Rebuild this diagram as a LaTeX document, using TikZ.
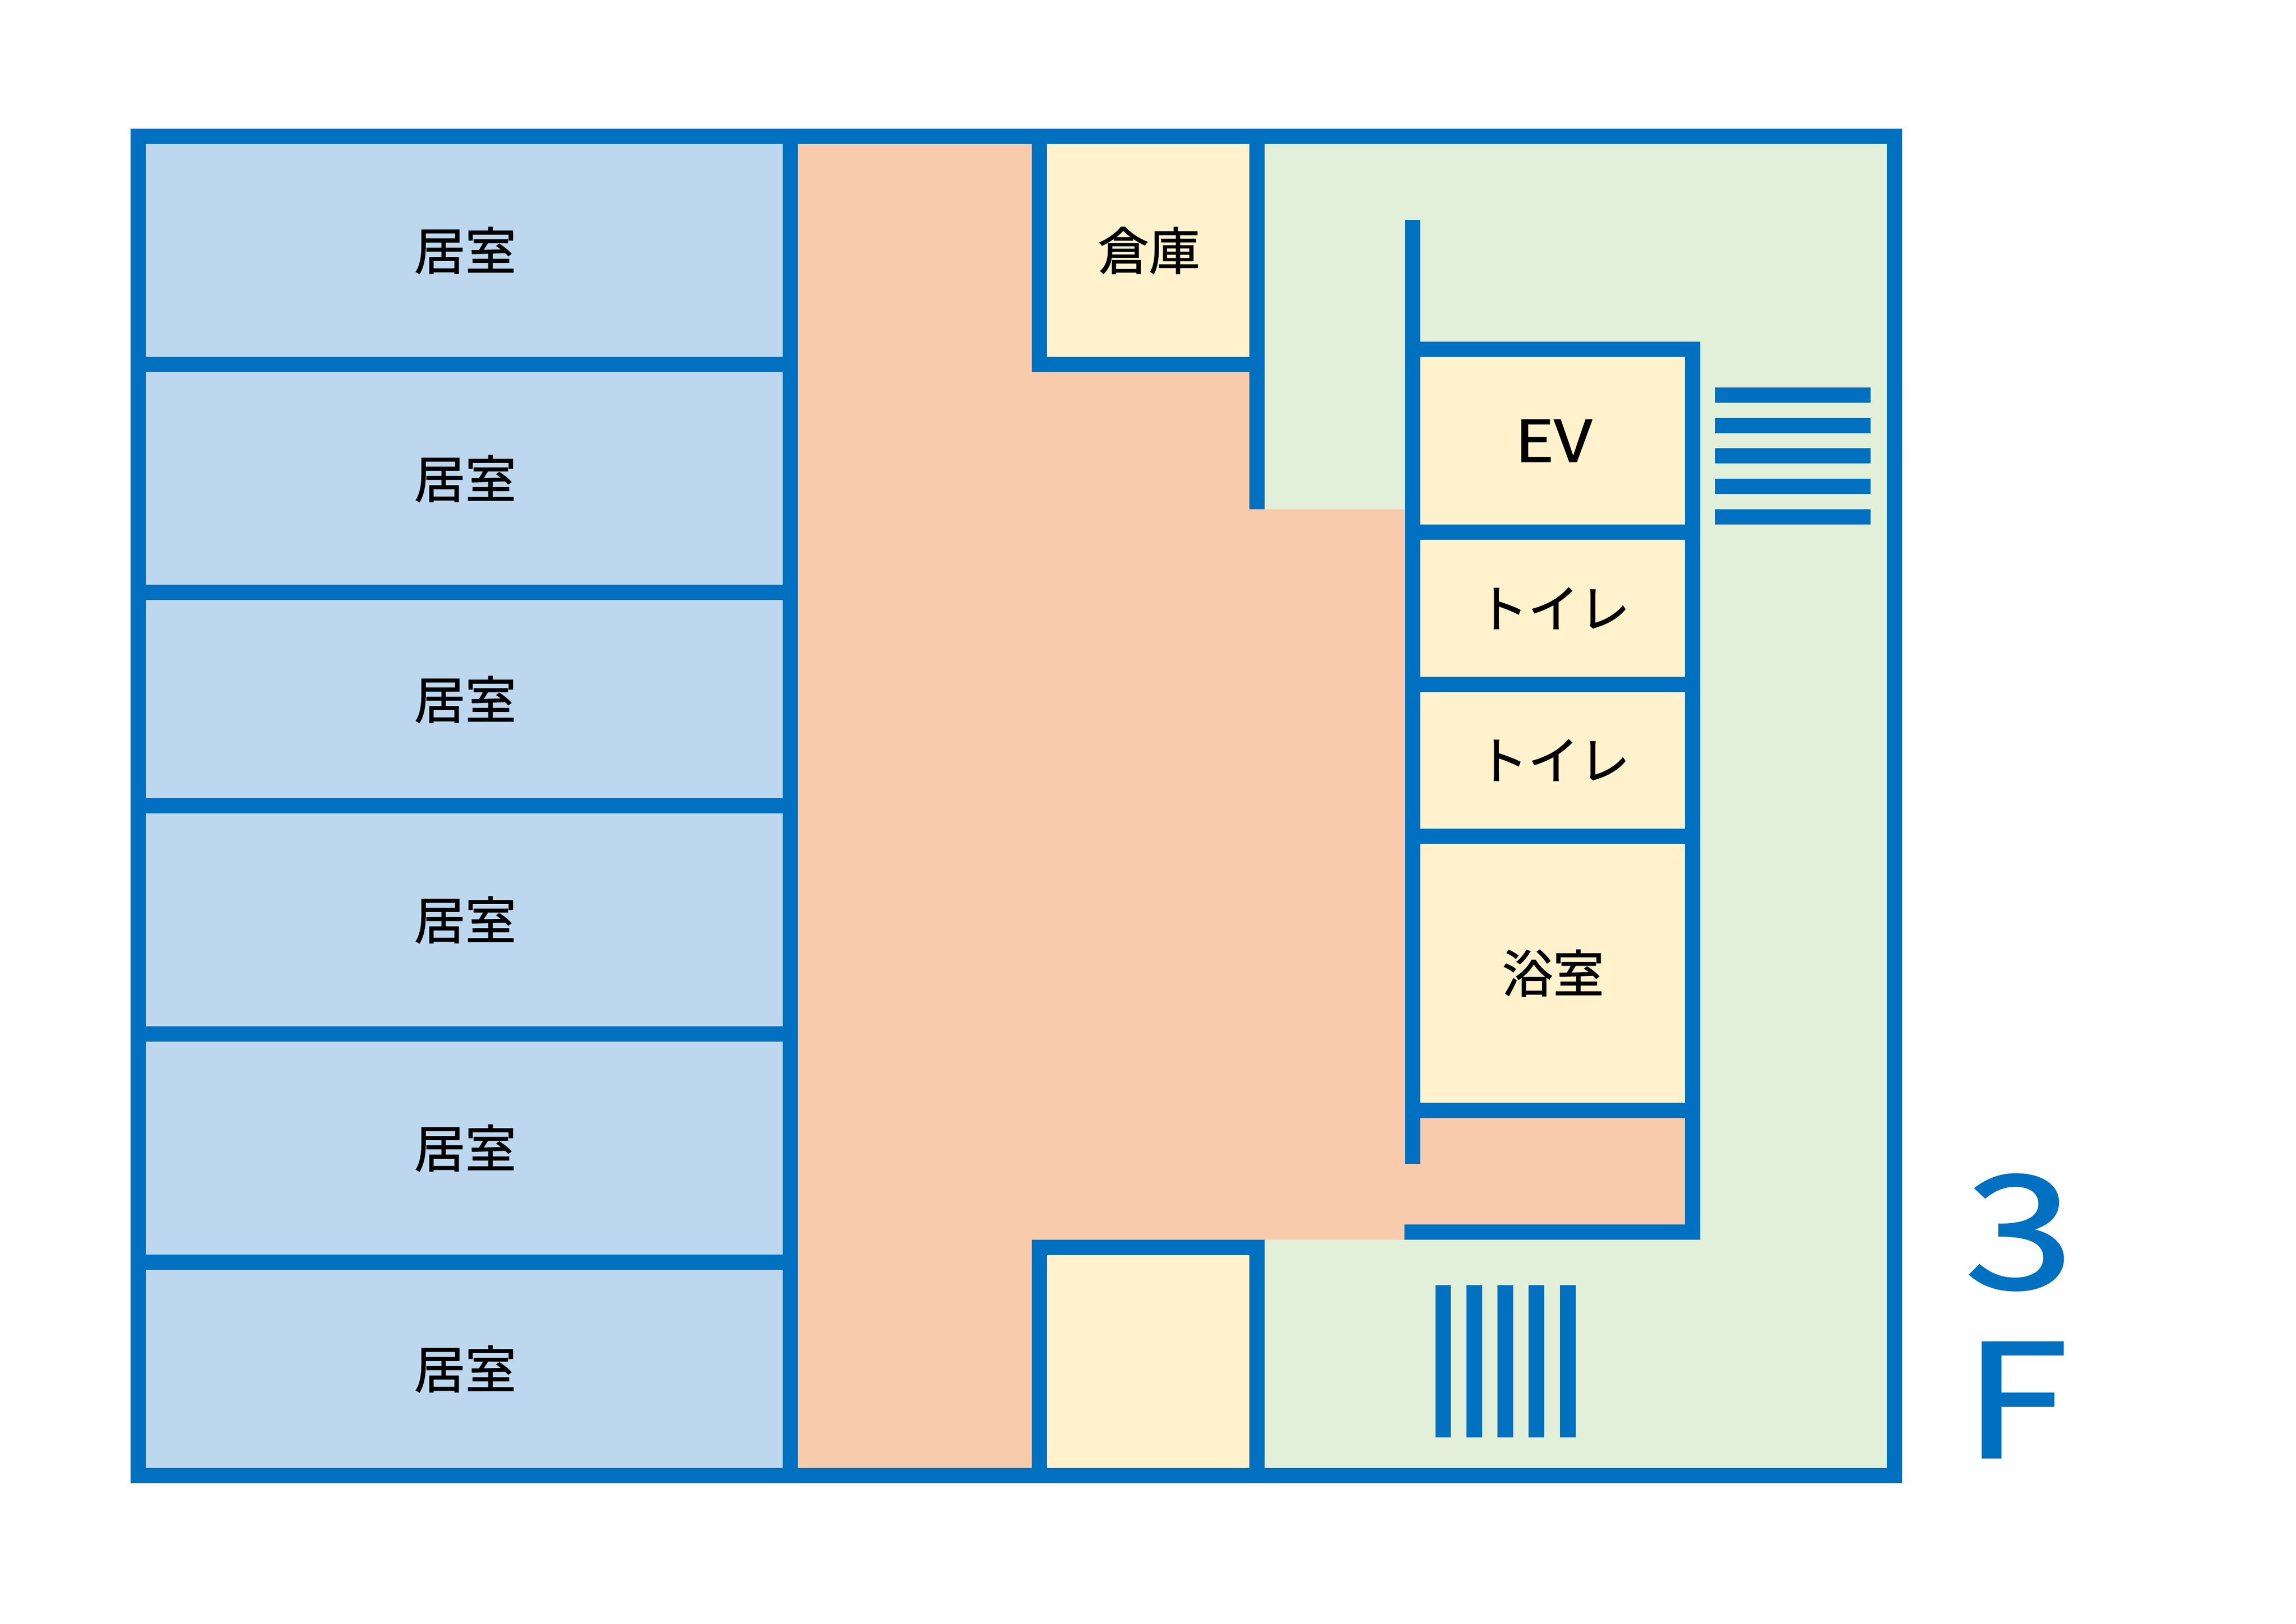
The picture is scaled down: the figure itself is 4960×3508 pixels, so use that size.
\documentclass[tikz,border=0pt]{standalone}
\usepackage{fontspec}
\usepackage{tikz}
\newfontfamily\jpfont[FakeBold=1.2]{Noto Sans CJK JP}
\definecolor{wallColor}{RGB}{0,112,192}
\definecolor{roomColor}{RGB}{189,215,238}
\definecolor{hallColor}{RGB}{248,203,173}
\definecolor{coreColor}{RGB}{255,242,204}
\definecolor{stairColor}{RGB}{226,240,217}
\tikzset{
  wall/.style={draw=wallColor,line width=8.25pt,line join=miter},
  tread/.style={draw=wallColor,line width=8.4pt},
  label/.style={text=black,anchor=center,inner sep=0pt,outer sep=0pt,font=\jpfont\fontsize{27.5}{27.5}\selectfont},
  floorNo/.style={text=wallColor,anchor=center,inner sep=0pt,outer sep=0pt,font=\jpfont\fontsize{85}{85}\selectfont}
}
\begin{document}
\begin{tikzpicture}[x=0.25pt,y=-0.25pt]
\path[use as bounding box,fill=white] (0,0) rectangle (4960,3508);

\path[fill=stairColor] (1707,295) rectangle (4092,3187);

\path[fill=roomColor] (298,295) rectangle (1707,3187);

\path[fill=hallColor] (1707,295) -- (2245,295) -- (2245,787) -- (2715,787) --
	(2715,1100) -- (3051,1100) -- (3051,2398) -- (3656,2398) --
	(3656,2661) -- (3034,2661) -- (3034,2678) -- (2245,2678) --
	(2245,3187) -- (1707,3187) -- cycle;

\path[fill=coreColor] (2245,295) rectangle (2715,787);

\path[fill=coreColor] (3051,755) rectangle (3656,2398);

\path[fill=coreColor] (2245,2694) rectangle (2715,3187);

\path[wall] (298,295) rectangle (4092,3187);

\path[wall] (1707.5,295) -- (1707.5,3187);

\path[wall] (298,787.5) -- (1707,787.5);

\path[wall] (298,1280) -- (1707,1280);

\path[wall] (298,1740.5) -- (1707,1740.5);

\path[wall] (298,2233) -- (1707,2233);

\path[wall] (298,2726) -- (1707,2726);

\path[wall] (2245,295) -- (2245,787.5) -- (2715,787.5);

\path[wall] (2715,295) -- (2715,1100);

\path[wall] (3051,475) -- (3051,2514);

\path[wall] (3051,755) -- (3656,755) -- (3656,2661) -- (3034,2661);

\path[wall] (3051,1149.5) -- (3656,1149.5);

\path[wall] (3051,1478.5) -- (3656,1478.5);

\path[wall] (3051,1806.5) -- (3656,1806.5);

\path[wall] (3051,2398.5) -- (3656,2398.5);

\path[wall] (2245,3187) -- (2245,2694) -- (2715,2694) -- (2715,3187);

\path[tread] (3705,853.5) -- (4041,853.5);

\path[tread] (3705,919.5) -- (4041,919.5);

\path[tread] (3705,984.5) -- (4041,984.5);

\path[tread] (3705,1050.5) -- (4041,1050.5);

\path[tread] (3705,1116.5) -- (4041,1116.5);

\path[tread] (3117.5,2776) -- (3117.5,3105);

\path[tread] (3185,2776) -- (3185,3105);

\path[tread] (3252,2776) -- (3252,3105);

\path[tread] (3319,2776) -- (3319,3105);

\path[tread] (3387,2776) -- (3387,3105);

\node[label] (room1) at (1005,541) {居室};

\node[label] (room2) at (1005,1034) {居室};

\node[label] (room3) at (1005,1511) {居室};

\node[label] (room4) at (1005,1987) {居室};

\node[label] (room5) at (1005,2480) {居室};

\node[label] (room6) at (1005,2957) {居室};

\node[label] (store) at (2482,541) {倉庫};

\node[label,xscale=1.3,yscale=1.13] (lift) at (3356,952) {EV};

\node[label] (toilet1) at (3356,1314) {トイレ};

\node[label] (toilet2) at (3356,1642) {トイレ};

\node[label] (bath) at (3355,2102) {浴室};

\node[floorNo,xscale=1.25] (floorNum) at (4362,2662) {3};

\node[floorNo,xscale=1.2] (floorLetter) at (4355,3024) {F};
\end{tikzpicture}
\end{document}
